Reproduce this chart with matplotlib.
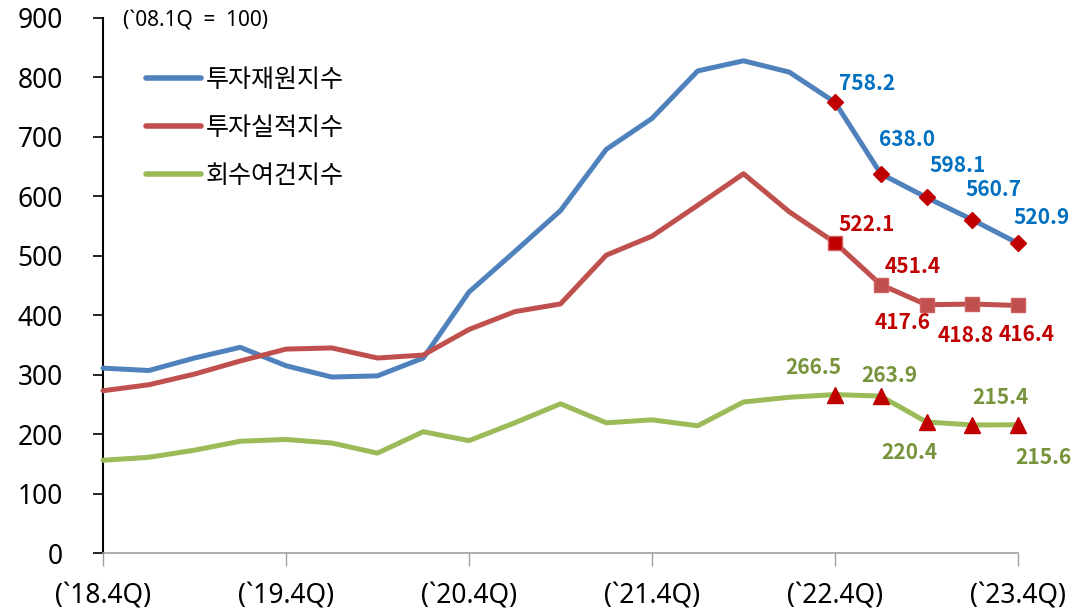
import matplotlib.pyplot as plt
from matplotlib.lines import Line2D

plt.rcParams['font.family'] = ['Noto Sans', 'Noto Sans CJK KR', 'DejaVu Sans']

# quarters `18.4Q .. `23.4Q
quarters = list(range(21))
tick_pos = [0, 4, 8, 12, 16, 20]
tick_labels = ["(`18.4Q)", "(`19.4Q)", "(`20.4Q)", "(`21.4Q)", "(`22.4Q)", "(`23.4Q)"]

fund_idx = [311, 307, 328, 346, 315, 296, 298, 328, 439, 507, 576, 679, 731,
            811, 828, 809, 758.2, 638.0, 598.1, 560.7, 520.9]
perf_idx = [273, 283, 301, 323, 343, 345, 328, 333, 376, 406, 419, 501, 533,
            585, 638, 574, 522.1, 451.4, 417.6, 418.8, 416.4]
exit_idx = [156, 161, 173, 188, 191, 185, 168, 204, 189, 219, 251, 219, 224,
            214, 254, 262, 266.5, 263.9, 220.4, 215.4, 215.6]

series_names = ['투자재원지수', '투자실적지수', '회수여건지수']

# label offsets (pixels, dx, dy with up positive) for the last 5 points
fund_off = [(32, 19), (26, 34), (31, 32), (21, 30), (24, 26)]
perf_off = [(32, 18), (32, 18), (-24, -18), (-7, -31), (9, -29)]
exit_off = [(-22, 27), (9, 21), (-17, -31), (28, 27), (25, -33)]

c_blue, c_red, c_green = '#4F81BD', '#C0504D', '#9BBB59'
mk_red = '#C00000'

fig = plt.figure(figsize=(10.75, 6.12), dpi=100)
ax = fig.add_axes([103 / 1075, 59 / 612, 915 / 1075, 535 / 612])

ax.plot(quarters, fund_idx, color=c_blue, lw=3.6, solid_capstyle='round', zorder=3)
ax.plot(quarters, perf_idx, color=c_red, lw=3.6, solid_capstyle='round', zorder=3)
ax.plot(quarters, exit_idx, color=c_green, lw=3.6, solid_capstyle='round', zorder=3)

last = quarters[16:]
ax.plot(last, fund_idx[16:], ls='none', marker='D', ms=8, color=mk_red, zorder=4)
ax.plot(last[:1], perf_idx[16:17], ls='none', marker='s', ms=10,
        mfc=mk_red, mec='#D06060', mew=1, zorder=4)
ax.plot(last[1:], perf_idx[17:], ls='none', marker='s', ms=10,
        mfc=c_red, mec='#D06060', mew=1, zorder=4)
ax.plot(last, exit_idx[16:], ls='none', marker='^', ms=11, color=mk_red, zorder=4)

def put_labels(vals, offs, col):
    for q, v, (dx, dy) in zip(last, vals[16:], offs):
        ax.annotate(f'{v:.1f}', (q, v), xytext=(dx * 0.72, dy * 0.72),
                    textcoords='offset points', ha='center', va='center',
                    fontsize=15, fontweight='bold', color=col, zorder=5,
                    family='Noto Sans CJK KR')

put_labels(fund_idx, fund_off, '#0070C0')
put_labels(perf_idx, perf_off, '#C00000')
put_labels(exit_idx, exit_off, '#77933C')

ax.set_xlim(0, 20)
ax.set_ylim(0, 900)
ax.set_yticks(range(0, 901, 100))
ax.set_xticks(tick_pos)
ax.set_xticklabels(tick_labels)
ax.tick_params(axis='y', direction='out', length=7, width=1.2, labelsize=19, pad=22)
ax.tick_params(axis='x', direction='out', length=9, width=1, color='#a0a0a0',
               labelsize=19, pad=12)
for s in ['top', 'right']:
    ax.spines[s].set_visible(False)
ax.spines['left'].set_linewidth(1.5)
ax.spines['bottom'].set_color('#a0a0a0')
ax.spines['bottom'].set_linewidth(1.2)
for ln in ax.lines:
    ln.set_clip_on(False)

ax.text(0.022, 0.995, "(`08.1Q  =  100)", transform=ax.transAxes, fontsize=15,
        ha='left', va='center')

handles = [Line2D([], [], color=c, lw=4, solid_capstyle='round')
           for c in (c_blue, c_red, c_green)]
ax.legend(handles, series_names, loc='upper left', bbox_to_anchor=(0.036, 0.926),
          frameon=False, fontsize=18, handlelength=2.2, handletextpad=0.2,
          labelspacing=0.93, borderaxespad=0)

fig.savefig('out.png', dpi=100)
